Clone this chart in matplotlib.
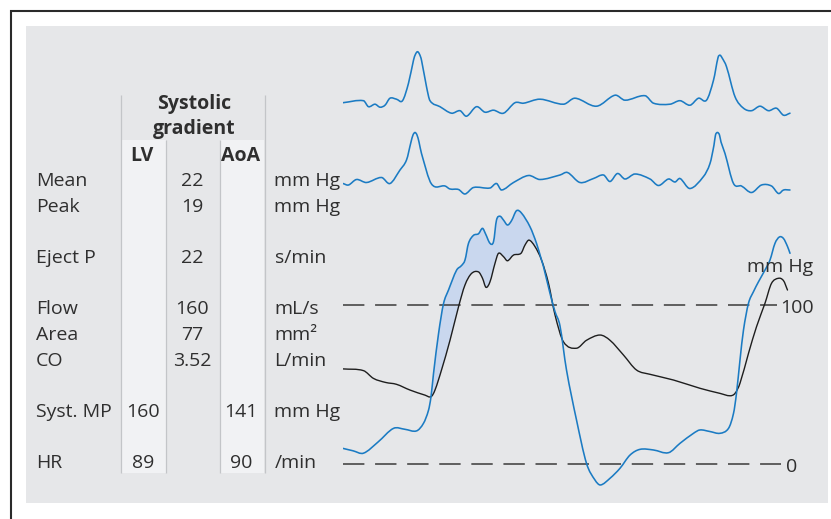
import matplotlib
matplotlib.use("Agg")
import matplotlib.pyplot as plt
from matplotlib.patches import Rectangle, PathPatch
from matplotlib.path import Path
import numpy as np

plt.rcParams['font.family'] = ['Open Sans', 'DejaVu Sans']

# ---------------- table data ----------------
header_title = ["Systolic", "gradient"]
col_headers = ["LV", "AoA"]
row_labels = ["Mean", "Peak", "Eject P", "Flow", "Area", "CO", "Syst. MP", "HR"]
lv_values = ["", "", "", "", "", "", "160", "89"]
gradient_values = ["22", "19", "22", "160", "77", "3.52", "", ""]
aoa_values = ["", "", "", "", "", "", "141", "90"]
units = ["mm Hg", "mm Hg", "s/min", "mL/s", "mm²", "L/min", "mm Hg", "/min"]

# ---------------- waveforms (time in ms, pressure in mm Hg, ECG in mV) ----------------
lv_t = [0, 20, 41, 70, 101, 124, 147, 161, 171, 176, 181, 191, 201, 211, 227, 237, 244,
        251, 261, 271, 279, 285, 294, 301, 307, 314, 321, 329, 337, 347, 357, 374, 387,
        397, 401, 414, 424, 434, 447, 467, 487, 504, 515, 534, 554, 574, 594, 621, 651,
        674, 701, 714, 734, 754, 771, 781, 787, 794, 801, 811, 821, 831, 844, 854, 864,
        873, 881, 889, 894]
lv_p = [10, 8.5, 7, 14, 22.6, 22, 21, 25.8, 34, 42.5, 57, 82, 101, 109.6, 122, 125, 128.5,
        139, 144, 145, 148.4, 145, 139, 140, 153.6, 156, 153.6, 150.5, 153.2, 159.5, 158,
        149.4, 139, 128.5, 124.3, 107.5, 96, 87, 59.3, 27.9, 0.6, -9.9, -13, -8.8, -2.5,
        5.8, 9.4, 9, 7.3, 13.2, 19.5, 21.6, 20.6, 19.5, 22.6, 32, 44.7, 65.6, 84.5, 101.3,
        108.6, 114.8, 122.2, 128.5, 139, 143, 142, 137, 132.7]

ao_t = [0, 41, 61, 85, 107, 134, 164, 176, 184, 197, 214, 231, 244, 257, 271, 279, 286,
        294, 304, 311, 321, 329, 341, 356, 364, 372, 384, 397, 411, 424, 441, 467, 487,
        514, 534, 561, 587, 614, 661, 714, 754, 774, 784, 794, 811, 827, 844, 857, 871,
        881, 889]
ao_p = [60, 58.9, 54, 51.5, 50.3, 46.7, 43.5, 42.5, 46.7, 59.3, 78, 99, 112.8, 120, 121,
        117, 111.3, 114.8, 126.4, 132.7, 130.6, 128, 131.6, 132.7, 137.9, 141, 136.9, 128.5,
        113.8, 94, 77, 73, 78, 81.3, 78, 68.7, 59.3, 56.6, 53, 47.8, 44.6, 43.1, 44.6, 51,
        69.8, 86.5, 101.3, 113.8, 117, 115.5, 109.6]

ecg1_t = [0, 41, 51, 64, 74, 84, 94, 107, 119, 131, 141, 145, 149, 153, 157, 167, 174, 194,
          217, 234, 247, 267, 284, 301, 321, 344, 361, 394, 441, 464, 507, 544, 564, 604,
          621, 654, 674, 694, 711, 727, 741, 750, 754, 758, 767, 784, 801, 817, 834, 851,
          867, 881, 894]
ecg1_mv = [-0.02, 0.02, -0.10, -0.05, -0.11, -0.07, 0.07, 0.05, 0.02, 0.37, 0.83, 0.95,
           1.00, 0.95, 0.83, 0.30, 0.02, -0.10, -0.23, -0.18, -0.29, -0.10, -0.21, -0.17,
           -0.23, -0.02, -0.03, 0.05, -0.05, 0.07, -0.09, 0.13, 0.03, 0.12, -0.03, -0.05,
           0.02, -0.07, 0.07, 0.03, 0.43, 0.88, 0.93, 0.88, 0.70, 0.10, -0.13, -0.18, -0.09,
           -0.18, -0.13, -0.27, -0.23]

ecg2_t = [0, 11, 27, 47, 77, 94, 114, 127, 136, 140, 144, 148, 152, 157, 177, 204, 214,
          231, 244, 261, 294, 307, 317, 341, 371, 394, 434, 449, 474, 501, 521, 534, 549,
          564, 584, 614, 631, 651, 664, 674, 694, 721, 734, 742, 745, 749, 753, 756, 764,
          781, 797, 817, 837, 857, 871, 881, 894]
ecg2_mv = [-0.05, -0.08, 0.03, -0.03, 0.07, -0.05, 0.22, 0.42, 0.78, 0.92, 0.97, 0.92,
           0.78, 0.55, -0.06, -0.10, -0.16, -0.17, -0.26, -0.13, -0.14, -0.05, -0.18, -0.03,
           0.11, 0.03, 0.12, 0.17, -0.03, 0.05, 0.12, -0.01, 0.15, 0.04, 0.14, 0.04, -0.09,
           0.04, -0.02, 0.05, -0.15, 0.09, 0.35, 0.72, 0.92, 0.97, 0.92, 0.78, 0.55, -0.05,
           -0.10, -0.23, -0.08, -0.10, -0.25, -0.18, -0.18]

ref_levels = [100, 0]
ref_labels = ["100", "0"]
pressure_unit = "mm Hg"
gradient_window = (176, 397)

# ---------------- styles ----------------
TEXT = "#2f2f2f"
BLUE = "#1b7bc3"
BLACK = "#1e1e1e"
FILL = "#c9d7ee"
PANEL = "#e6e7e9"
COLBG = "#f1f2f4"
GRID = "#c3c5c8"
FS = 14


def slopes(x, y):
    x = np.asarray(x, float)
    y = np.asarray(y, float)
    m = np.empty_like(y)
    m[1:-1] = (y[2:] - y[:-2]) / (x[2:] - x[:-2])
    m[0] = (y[1] - y[0]) / (x[1] - x[0])
    m[-1] = (y[-1] - y[-2]) / (x[-1] - x[-2])
    return x, y, m


def curve_segments(x, y, m, start_code=Path.MOVETO):
    """Smooth Bezier path through the measured points (cubic Hermite)."""
    verts = [(x[0], y[0])]
    codes = [start_code]
    for i in range(len(x) - 1):
        dx = x[i + 1] - x[i]
        verts += [(x[i] + dx / 3, y[i] + m[i] * dx / 3),
                  (x[i + 1] - dx / 3, y[i + 1] - m[i + 1] * dx / 3),
                  (x[i + 1], y[i + 1])]
        codes += [Path.CURVE4] * 3
    return verts, codes


def draw_curve(ax, x, y, **kw):
    xs, ys, ms = slopes(x, y)
    v, c = curve_segments(xs, ys, ms)
    ax.add_patch(PathPatch(Path(v, c), fill=False, capstyle="round",
                           joinstyle="round", **kw))


W, H = 831, 519
fig = plt.figure(figsize=(W / 100, H / 100), dpi=100)
fig.patch.set_facecolor("white")

# layout axes in pixel units
ax0 = fig.add_axes([0, 0, 1, 1])
ax0.set_xlim(0, W)
ax0.set_ylim(H, 0)
ax0.axis("off")

ax0.plot([11, 11, W], [H, 10.7, 10.7], color="#2a2a2a", lw=1.5, solid_joinstyle="miter")
ax0.add_patch(Rectangle((26, 26), 802, 477, facecolor=PANEL, edgecolor="none"))
ax0.add_patch(Rectangle((122, 140), 44, 333, facecolor=COLBG, edgecolor="none"))
ax0.add_patch(Rectangle((220, 140), 44, 333, facecolor=COLBG, edgecolor="none"))
ax0.vlines([121, 264.5], 95, 473, color=GRID, lw=0.9)
ax0.vlines([166, 219.5], 140, 473, color=GRID, lw=0.9)

ax0.text(194, 109.5, header_title[0], ha="center", va="baseline", fontsize=FS,
         fontweight="bold", color=TEXT)
ax0.text(194, 134, header_title[1], ha="center", va="baseline", fontsize=FS,
         fontweight="bold", color=TEXT)
ax0.text(142, 161, col_headers[0], ha="center", va="baseline", fontsize=FS,
         fontweight="bold", color=TEXT)
ax0.text(241, 161, col_headers[1], ha="center", va="baseline", fontsize=FS,
         fontweight="bold", color=TEXT)

row_base = [186, 212, 263, 314, 340, 365.5, 417, 467.5]
for yb, lab, lv, gr, ao, un in zip(row_base, row_labels, lv_values, gradient_values,
                                    aoa_values, units):
    ax0.text(36, yb, lab, ha="left", va="baseline", fontsize=FS, color=TEXT)
    ax0.text(143, yb, lv, ha="center", va="baseline", fontsize=FS, color=TEXT)
    ax0.text(192, yb, gr, ha="center", va="baseline", fontsize=FS, color=TEXT)
    ax0.text(241, yb, ao, ha="center", va="baseline", fontsize=FS, color=TEXT)
    ax0.text(274.5, yb, un, ha="left", va="baseline", fontsize=FS, color=TEXT)

# pressure axes
x0, x1 = 343, 793
axp = fig.add_axes([x0 / W, 1 - 496.1 / H, (x1 - x0) / W, 302.1 / H])
axp.set_xlim(0, 900)
axp.set_ylim(-20, 170)
axp.axis("off")
axp.patch.set_alpha(0)

# shaded systolic gradient between LV (blue) and aortic (black) pressure
bx, by, bm = slopes(lv_t, lv_p)
kx, ky, km = slopes(ao_t, ao_p)
t0, t1 = gradient_window
mb = (bx >= t0) & (bx <= t1)
mk = (kx >= t0) & (kx <= t1)
v1, c1 = curve_segments(bx[mb], by[mb], bm[mb])
v2, c2 = curve_segments(kx[mk][::-1], ky[mk][::-1], km[mk][::-1], start_code=Path.LINETO)
verts = v1 + v2 + [v1[0]]
codes = c1 + c2 + [Path.CLOSEPOLY]
axp.add_patch(PathPatch(Path(verts, codes), facecolor=FILL, edgecolor="none", zorder=1))

for lvl, end in zip(ref_levels, [868, 876]):
    axp.plot([0, end], [lvl, lvl], color="#3a3a3a", lw=1.1, dashes=(14, 7), zorder=2)
axp.text(874, 95.3, ref_labels[0], ha="left", va="baseline", fontsize=FS, color=TEXT)
axp.text(886, -4.7, ref_labels[1], ha="left", va="baseline", fontsize=FS, color=TEXT)

draw_curve(axp, ao_t, ao_p, edgecolor=BLACK, lw=1.0, zorder=3)
draw_curve(axp, lv_t, lv_p, edgecolor=BLUE, lw=1.15, zorder=4)
axp.text(875, 121, pressure_unit, ha="center", va="baseline", fontsize=FS, color=TEXT,
         zorder=5)

# ECG axes
for base_px, tt, mv in [(101.7, ecg1_t, ecg1_mv), (181, ecg2_t, ecg2_mv)]:
    axe = fig.add_axes([x0 / W, 1 - (base_px + 25) / H, (x1 - x0) / W, 85 / H])
    axe.set_xlim(0, 900)
    axe.set_ylim(-0.5, 1.2)
    axe.axis("off")
    axe.patch.set_alpha(0)
    draw_curve(axe, tt, mv, edgecolor=BLUE, lw=1.15)

fig.savefig("out.png", dpi=100, facecolor="white")
